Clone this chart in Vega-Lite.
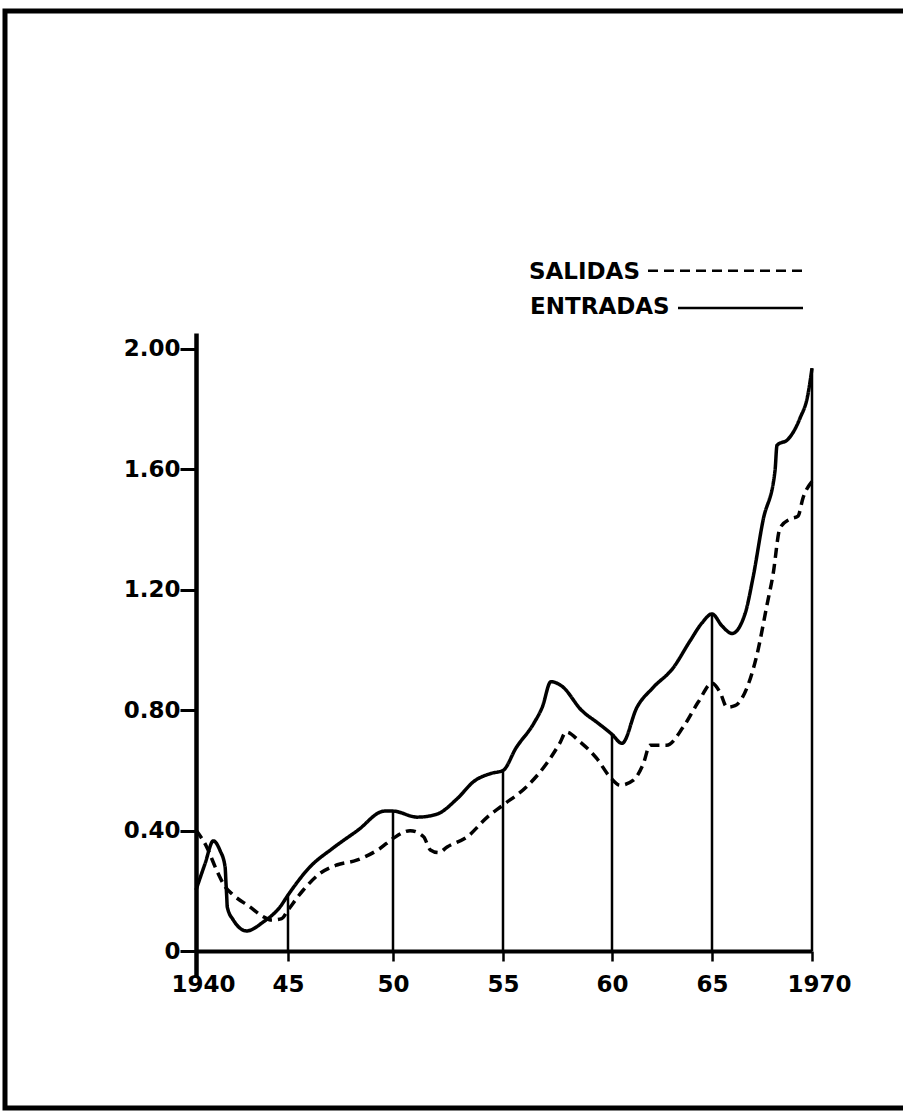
{
  "$schema": "https://vega.github.io/schema/vega-lite/v6.json",
  "width": 898,
  "height": 1097,
  "autosize": "none",
  "padding": {"left": 5, "top": 11, "right": 0, "bottom": 4},
  "background": "white",
  "view": {"stroke": "black", "strokeWidth": 5, "strokeDash": [898, 1097, 1995], "strokeCap": "butt"},
  "config": {
    "axis": {"grid": false, "domainColor": "black", "tickColor": "black", "labelColor": "black", "labelFont": "DejaVu Sans", "labelFontWeight": "bold", "labelFontSize": 23, "title": null}
  },
  "datasets": {
    "lines": [
      {"serie": "ENTRADAS", "year": 1940.0, "value": 0.203},
      {"serie": "ENTRADAS", "year": 1940.49, "value": 0.29},
      {"serie": "ENTRADAS", "year": 1940.94, "value": 0.366},
      {"serie": "ENTRADAS", "year": 1941.3, "value": 0.335},
      {"serie": "ENTRADAS", "year": 1941.58, "value": 0.28},
      {"serie": "ENTRADAS", "year": 1941.63, "value": 0.226},
      {"serie": "ENTRADAS", "year": 1941.67, "value": 0.18},
      {"serie": "ENTRADAS", "year": 1941.7, "value": 0.146},
      {"serie": "ENTRADAS", "year": 1942.03, "value": 0.103},
      {"serie": "ENTRADAS", "year": 1942.75, "value": 0.067},
      {"serie": "ENTRADAS", "year": 1943.66, "value": 0.097},
      {"serie": "ENTRADAS", "year": 1944.57, "value": 0.147},
      {"serie": "ENTRADAS", "year": 1945.0, "value": 0.186},
      {"serie": "ENTRADAS", "year": 1946.05, "value": 0.28},
      {"serie": "ENTRADAS", "year": 1947.1, "value": 0.34},
      {"serie": "ENTRADAS", "year": 1948.3, "value": 0.4},
      {"serie": "ENTRADAS", "year": 1949.6, "value": 0.465},
      {"serie": "ENTRADAS", "year": 1950.0, "value": 0.465},
      {"serie": "ENTRADAS", "year": 1951.1, "value": 0.445},
      {"serie": "ENTRADAS", "year": 1952.0, "value": 0.455},
      {"serie": "ENTRADAS", "year": 1952.9, "value": 0.505},
      {"serie": "ENTRADAS", "year": 1953.7, "value": 0.565},
      {"serie": "ENTRADAS", "year": 1954.45, "value": 0.59},
      {"serie": "ENTRADAS", "year": 1955.0, "value": 0.6},
      {"serie": "ENTRADAS", "year": 1955.6, "value": 0.675},
      {"serie": "ENTRADAS", "year": 1956.4, "value": 0.755},
      {"serie": "ENTRADAS", "year": 1956.8, "value": 0.81},
      {"serie": "ENTRADAS", "year": 1957.2, "value": 0.895},
      {"serie": "ENTRADAS", "year": 1957.7, "value": 0.88},
      {"serie": "ENTRADAS", "year": 1958.6, "value": 0.8},
      {"serie": "ENTRADAS", "year": 1959.4, "value": 0.755},
      {"serie": "ENTRADAS", "year": 1960.0, "value": 0.72},
      {"serie": "ENTRADAS", "year": 1960.5, "value": 0.69},
      {"serie": "ENTRADAS", "year": 1961.25, "value": 0.81},
      {"serie": "ENTRADAS", "year": 1962.05, "value": 0.875},
      {"serie": "ENTRADAS", "year": 1963.05, "value": 0.94},
      {"serie": "ENTRADAS", "year": 1963.9, "value": 1.03},
      {"serie": "ENTRADAS", "year": 1964.5, "value": 1.09},
      {"serie": "ENTRADAS", "year": 1965.0, "value": 1.12},
      {"serie": "ENTRADAS", "year": 1965.5, "value": 1.08},
      {"serie": "ENTRADAS", "year": 1966.0, "value": 1.055},
      {"serie": "ENTRADAS", "year": 1966.65, "value": 1.12},
      {"serie": "ENTRADAS", "year": 1967.05, "value": 1.24},
      {"serie": "ENTRADAS", "year": 1967.55, "value": 1.43},
      {"serie": "ENTRADAS", "year": 1968.15, "value": 1.595},
      {"serie": "ENTRADAS", "year": 1968.25, "value": 1.68},
      {"serie": "ENTRADAS", "year": 1968.8, "value": 1.7},
      {"serie": "ENTRADAS", "year": 1969.4, "value": 1.77},
      {"serie": "ENTRADAS", "year": 1969.8, "value": 1.85},
      {"serie": "ENTRADAS", "year": 1970.0, "value": 1.936},
      {"serie": "SALIDAS", "year": 1940.0, "value": 0.402},
      {"serie": "SALIDAS", "year": 1940.58, "value": 0.346},
      {"serie": "SALIDAS", "year": 1941.12, "value": 0.269},
      {"serie": "SALIDAS", "year": 1941.58, "value": 0.214},
      {"serie": "SALIDAS", "year": 1942.03, "value": 0.186},
      {"serie": "SALIDAS", "year": 1942.93, "value": 0.147},
      {"serie": "SALIDAS", "year": 1943.66, "value": 0.114},
      {"serie": "SALIDAS", "year": 1944.1, "value": 0.103},
      {"serie": "SALIDAS", "year": 1944.66, "value": 0.108},
      {"serie": "SALIDAS", "year": 1945.0, "value": 0.136},
      {"serie": "SALIDAS", "year": 1945.73, "value": 0.203},
      {"serie": "SALIDAS", "year": 1946.52, "value": 0.258},
      {"serie": "SALIDAS", "year": 1947.32, "value": 0.286},
      {"serie": "SALIDAS", "year": 1948.27, "value": 0.302},
      {"serie": "SALIDAS", "year": 1949.38, "value": 0.341},
      {"serie": "SALIDAS", "year": 1950.0, "value": 0.374},
      {"serie": "SALIDAS", "year": 1950.78, "value": 0.4},
      {"serie": "SALIDAS", "year": 1951.39, "value": 0.38},
      {"serie": "SALIDAS", "year": 1951.7, "value": 0.336},
      {"serie": "SALIDAS", "year": 1952.08, "value": 0.327},
      {"serie": "SALIDAS", "year": 1952.46, "value": 0.346},
      {"serie": "SALIDAS", "year": 1953.38, "value": 0.38},
      {"serie": "SALIDAS", "year": 1954.3, "value": 0.446},
      {"serie": "SALIDAS", "year": 1955.0, "value": 0.485},
      {"serie": "SALIDAS", "year": 1956.08, "value": 0.546},
      {"serie": "SALIDAS", "year": 1957.0, "value": 0.623},
      {"serie": "SALIDAS", "year": 1957.6, "value": 0.69},
      {"serie": "SALIDAS", "year": 1957.9, "value": 0.728},
      {"serie": "SALIDAS", "year": 1958.53, "value": 0.695},
      {"serie": "SALIDAS", "year": 1959.3, "value": 0.64},
      {"serie": "SALIDAS", "year": 1959.9, "value": 0.579},
      {"serie": "SALIDAS", "year": 1960.4, "value": 0.551},
      {"serie": "SALIDAS", "year": 1961.07, "value": 0.568},
      {"serie": "SALIDAS", "year": 1961.57, "value": 0.623},
      {"serie": "SALIDAS", "year": 1961.9, "value": 0.684},
      {"serie": "SALIDAS", "year": 1962.73, "value": 0.684},
      {"serie": "SALIDAS", "year": 1963.57, "value": 0.745},
      {"serie": "SALIDAS", "year": 1964.32, "value": 0.828},
      {"serie": "SALIDAS", "year": 1965.0, "value": 0.89},
      {"serie": "SALIDAS", "year": 1965.4, "value": 0.86},
      {"serie": "SALIDAS", "year": 1965.75, "value": 0.81},
      {"serie": "SALIDAS", "year": 1966.15, "value": 0.815},
      {"serie": "SALIDAS", "year": 1966.75, "value": 0.875},
      {"serie": "SALIDAS", "year": 1967.25, "value": 0.985},
      {"serie": "SALIDAS", "year": 1967.75, "value": 1.15},
      {"serie": "SALIDAS", "year": 1968.05, "value": 1.25},
      {"serie": "SALIDAS", "year": 1968.4, "value": 1.405},
      {"serie": "SALIDAS", "year": 1968.9, "value": 1.435},
      {"serie": "SALIDAS", "year": 1969.3, "value": 1.445},
      {"serie": "SALIDAS", "year": 1969.55, "value": 1.505},
      {"serie": "SALIDAS", "year": 1970.0, "value": 1.56}
    ],
    "rules": [
      {"year": 1945, "value": 0},
      {"year": 1945, "value": 0.186},
      {"year": 1950, "value": 0},
      {"year": 1950, "value": 0.465},
      {"year": 1955, "value": 0},
      {"year": 1955, "value": 0.6},
      {"year": 1960, "value": 0},
      {"year": 1960, "value": 0.72},
      {"year": 1965, "value": 0},
      {"year": 1965, "value": 1.12},
      {"year": 1970, "value": 0},
      {"year": 1970, "value": 1.936}
    ],
    "legend": [
      {"serie": "SALIDAS"},
      {"serie": "ENTRADAS"}
    ]
  },
  "layer": [
    {
      "data": {"name": "rules"},
      "mark": {"type": "line", "color": "black", "strokeWidth": 2.5},
      "encoding": {
        "x": {"field": "year", "type": "quantitative", "scale": {"type": "linear", "domain": [1940, 1945, 1950, 1955, 1960, 1965, 1970], "range": [191, 283, 388, 498, 607, 707, 807], "nice": false, "zero": false}},
        "y": {"field": "value", "type": "quantitative", "scale": {"domain": [-0.086, 2.053], "range": [966, 322], "nice": false, "zero": false}},
        "detail": {"field": "year", "type": "nominal"}
      }
    },
    {
      "data": {"name": "lines"},
      "mark": {"type": "line", "color": "black", "strokeWidth": 3.5, "interpolate": "monotone"},
      "encoding": {
        "x": {
          "field": "year",
          "type": "quantitative",
          "scale": {"type": "linear", "domain": [1940, 1945, 1950, 1955, 1960, 1965, 1970], "range": [191, 283, 388, 498, 607, 707, 807], "nice": false, "zero": false},
          "axis": {
            "orient": "bottom",
            "offset": -157,
            "values": [1940, 1945, 1950, 1955, 1960, 1965, 1970],
            "labelExpr": "datum.value == 1940 || datum.value == 1970 ? toString(datum.value) : toString(datum.value - 1900)",
            "labelOffset": {"condition": {"test": "datum.value == 1940 || datum.value == 1970", "value": 7}, "value": 0},
            "labelFlush": false,
            "labelOverlap": false,
            "tickSize": 10,
            "tickWidth": 2.5,
            "domainWidth": 4,
            "labelPadding": 12
          }
        },
        "y": {
          "field": "value",
          "type": "quantitative",
          "scale": {"domain": [-0.086, 2.053], "range": [966, 322], "nice": false, "zero": false},
          "axis": {
            "orient": "left",
            "offset": -191,
            "values": [0, 0.4, 0.8, 1.2, 1.6, 2.0],
            "labelExpr": "datum.value == 0 ? '0' : format(datum.value, '.2f')",
            "labelOverlap": false,
            "tickSize": 16,
            "tickWidth": 3,
            "domainWidth": 4.5,
            "labelPadding": 0
          }
        },
        "detail": {"field": "serie"},
        "strokeDash": {"field": "serie", "type": "nominal", "scale": {"domain": ["ENTRADAS", "SALIDAS"], "range": [[1, 0], [10, 6]]}, "legend": null}
      }
    },
    {
      "data": {"name": "legend"},
      "transform": [{"filter": "datum.serie == 'SALIDAS'"}],
      "mark": {"type": "text", "align": "left", "baseline": "middle", "font": "DejaVu Sans", "fontWeight": "bold", "fontSize": 23, "color": "black"},
      "encoding": {
        "x": {"datum": 1956.19, "type": "quantitative"},
        "y": {"datum": 2.255, "type": "quantitative"},
        "text": {"field": "serie"}
      }
    },
    {
      "data": {"name": "legend"},
      "transform": [{"filter": "datum.serie == 'ENTRADAS'"}],
      "mark": {"type": "text", "align": "left", "baseline": "middle", "font": "DejaVu Sans", "fontWeight": "bold", "fontSize": 23, "color": "black"},
      "encoding": {
        "x": {"datum": 1956.24, "type": "quantitative"},
        "y": {"datum": 2.139, "type": "quantitative"},
        "text": {"field": "serie"}
      }
    },
    {
      "data": {"name": "legend"},
      "transform": [{"filter": "datum.serie == 'SALIDAS'"}],
      "mark": {"type": "rule", "color": "black", "strokeWidth": 2.5, "strokeDash": [10, 6]},
      "encoding": {
        "x": {"datum": 1961.8, "type": "quantitative"},
        "x2": {"datum": 1969.55},
        "y": {"datum": 2.26, "type": "quantitative"}
      }
    },
    {
      "data": {"name": "legend"},
      "transform": [{"filter": "datum.serie == 'ENTRADAS'"}],
      "mark": {"type": "rule", "color": "black", "strokeWidth": 2.5},
      "encoding": {
        "x": {"datum": 1963.3, "type": "quantitative"},
        "x2": {"datum": 1969.55},
        "y": {"datum": 2.136, "type": "quantitative"}
      }
    }
  ]
}
